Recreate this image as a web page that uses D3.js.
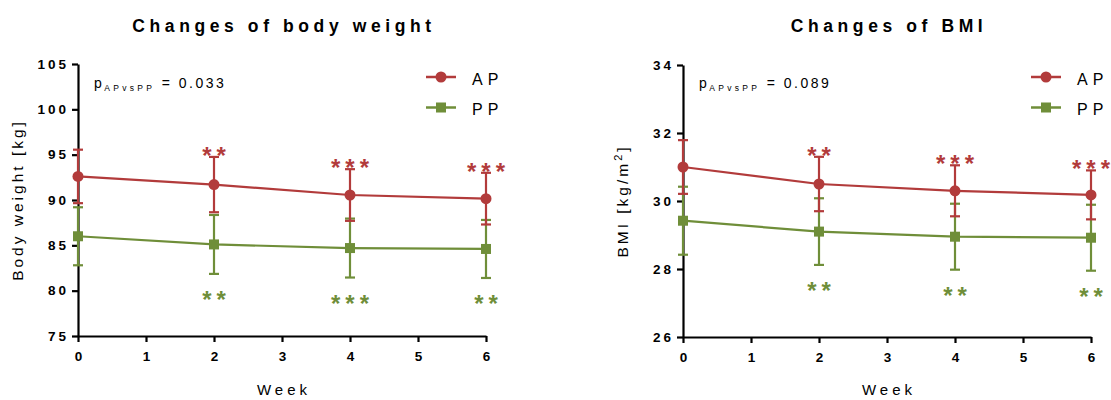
<!DOCTYPE html>
<html>
<head>
<meta charset="utf-8">
<script src="https://cdn.jsdelivr.net/npm/d3@7"></script>
<style>
  html, body { margin: 0; padding: 0; background: #fff; }
  svg { display: block; font-family: "Liberation Sans", Arial, Helvetica, sans-serif; }
</style>
</head>
<body>
<svg id="chart" width="1111" height="400"></svg>
<script>
// Study weeks at which measurements were taken
const weeks = [0, 2, 4, 6];
const weekTicks = [0, 1, 2, 3, 4, 5, 6];

// Body weight (kg): mean and SD per group
const weightAP = [92.6, 91.7, 90.55, 90.15];
const weightAPsd = [2.95, 3.05, 2.85, 2.85];
const weightPP = [86.0, 85.1, 84.7, 84.6];
const weightPPsd = [3.2, 3.25, 3.25, 3.2];
const weightTicks = [75, 80, 85, 90, 95, 100, 105];

// BMI (kg/m^2): mean and SD per group
const bmiAP = [31.0, 30.5, 30.3, 30.18];
const bmiAPsd = [0.79, 0.8, 0.75, 0.72];
const bmiPP = [29.42, 29.1, 28.95, 28.92];
const bmiPPsd = [1.0, 0.98, 0.97, 0.97];
const bmiTicks = [26, 28, 30, 32, 34];

// Significance marks versus baseline
const weightAPstars = ["", "**", "***", "***"];
const weightPPstars = ["", "**", "***", "**"];
const bmiAPstars = ["", "**", "***", "***"];
const bmiPPstars = ["", "**", "**", "**"];

const groups = ["AP", "PP"];
const colors = { AP: "#b23b3b", PP: "#6f8e39" };

const svg = d3.select("#chart");

function drawPanel(opt) {
  const g = svg.append("g");
  const x = d3.scaleLinear().domain([0, 6]).range([opt.left, opt.left + 408]);
  const y = d3.scaleLinear().domain(opt.domain).range([opt.bottom, opt.top]);

  // Title
  g.append("text")
    .attr("x", (x(0) + x(6)) / 2 + 2)
    .attr("y", 32)
    .attr("text-anchor", "middle")
    .style("font-size", "17.5px")
    .style("font-weight", "bold")
    .style("letter-spacing", "4.6px")
    .text(opt.title);

  // Axes
  const yAxis = d3.axisLeft(y).tickValues(opt.ticks).tickFormat(d3.format("d"))
    .tickSize(6).tickSizeOuter(0).tickPadding(5);
  const xAxis = d3.axisBottom(x).tickValues(weekTicks).tickFormat(d3.format("d"))
    .tickSize(6).tickSizeOuter(0).tickPadding(9);

  const ya = g.append("g").attr("transform", `translate(${x(0)},0)`).call(yAxis);
  const xa = g.append("g").attr("transform", `translate(0,${y(opt.domain[0])})`).call(xAxis);
  [ya, xa].forEach(a => {
    a.select(".domain").attr("stroke", "#000").attr("stroke-width", 2.2);
    a.selectAll(".tick line").attr("stroke", "#000").attr("stroke-width", 2.2);
    a.selectAll(".tick text")
      .attr("fill", "#000")
      .style("font-size", "13.5px")
      .style("font-weight", "bold")
      .style("letter-spacing", "3px")
      .style("font-family", "Liberation Sans, Arial, sans-serif");
  });
  ya.selectAll(".tick text").attr("dx", "2px");
  xa.selectAll(".tick text").attr("dx", "1.5px");

  // Axis titles
  g.append("text")
    .attr("x", (x(0) + x(6)) / 2 + 2)
    .attr("y", 395)
    .attr("text-anchor", "middle")
    .style("font-size", "15px")
    .style("letter-spacing", "4px")
    .text("Week");

  const yl = g.append("text")
    .attr("transform", `translate(${opt.ylabelX},${(opt.top + opt.bottom) / 2}) rotate(-90)`)
    .attr("text-anchor", "middle")
    .style("font-size", "15.5px")
    .style("letter-spacing", "3px");
  opt.ylabel(yl);

  // p value
  const pt = g.append("text")
    .attr("x", x(0) + 16)
    .attr("y", 88)
    .style("font-size", "14px")
    .style("letter-spacing", "2.5px");
  pt.append("tspan").text("p");
  pt.append("tspan").attr("dy", 3).style("font-size", "8.5px").style("letter-spacing", "3.3px").text("APvsPP");
  pt.append("tspan").attr("dy", -3).text(" = " + opt.p);

  // Series: PP first so AP sits on top
  const series = [
    { key: "PP", mean: opt.pp, sd: opt.ppsd, stars: opt.ppStars },
    { key: "AP", mean: opt.ap, sd: opt.apsd, stars: opt.apStars }
  ];
  const line = d3.line().x((d, i) => x(weeks[i])).y(d => y(d));

  series.forEach(s => {
    const c = colors[s.key];
    const sg = g.append("g");
    // error bars (mean ± SD)
    weeks.forEach((w, i) => {
      const hi = y(s.mean[i] + s.sd[i]), lo = y(s.mean[i] - s.sd[i]), cx = x(w);
      sg.append("line").attr("x1", cx).attr("x2", cx).attr("y1", hi).attr("y2", lo)
        .attr("stroke", c).attr("stroke-width", 2.2);
      [hi, lo].forEach(v => sg.append("line")
        .attr("x1", cx - 5).attr("x2", cx + 5).attr("y1", v).attr("y2", v)
        .attr("stroke", c).attr("stroke-width", 2.2));
    });
    sg.append("path").datum(s.mean).attr("d", line)
      .attr("fill", "none").attr("stroke", c).attr("stroke-width", 2.2);
    weeks.forEach((w, i) => {
      if (s.key === "AP") {
        sg.append("circle").attr("cx", x(w)).attr("cy", y(s.mean[i])).attr("r", 5.5).attr("fill", c);
      } else {
        sg.append("rect").attr("x", x(w) - 5).attr("y", y(s.mean[i]) - 5)
          .attr("width", 10).attr("height", 10).attr("fill", c);
      }
      if (s.stars[i]) {
        const yy = s.key === "AP" ? y(s.mean[i] + s.sd[i]) + 7 : y(s.mean[i] - s.sd[i]) + 34;
        sg.append("text").attr("x", x(w) + 2.5).attr("y", yy)
          .attr("text-anchor", "middle")
          .attr("fill", c)
          .style("font-size", "24px")
          .style("font-weight", "bold")
          .style("letter-spacing", "5px")
          .text(s.stars[i]);
      }
    });
  });

  // Legend
  groups.forEach((k, i) => {
    const lx = x(0) + 363, ly = 77 + i * 30.5, c = colors[k];
    g.append("line").attr("x1", lx - 15).attr("x2", lx + 15).attr("y1", ly).attr("y2", ly)
      .attr("stroke", c).attr("stroke-width", 2.5);
    if (k === "AP") g.append("circle").attr("cx", lx).attr("cy", ly).attr("r", 5.5).attr("fill", c);
    else g.append("rect").attr("x", lx - 5).attr("y", ly - 5).attr("width", 10).attr("height", 10).attr("fill", c);
    g.append("text").attr("x", lx + 31).attr("y", ly + 7.5)
      .style("font-size", "16px").style("letter-spacing", "5px").text(k);
  });
}

drawPanel({
  title: "Changes of body weight",
  left: 78, top: 64, bottom: 336,
  domain: [75, 105], ticks: weightTicks,
  ap: weightAP, apsd: weightAPsd, pp: weightPP, ppsd: weightPPsd,
  apStars: weightAPstars, ppStars: weightPPstars,
  p: "0.033",
  ylabelX: 23,
  ylabel: t => t.text("Body weight [kg]")
});

drawPanel({
  title: "Changes of BMI",
  left: 683, top: 65, bottom: 337,
  domain: [26, 34], ticks: bmiTicks,
  ap: bmiAP, apsd: bmiAPsd, pp: bmiPP, ppsd: bmiPPsd,
  apStars: bmiAPstars, ppStars: bmiPPstars,
  p: "0.089",
  ylabelX: 628,
  ylabel: t => {
    t.append("tspan").text("BMI [kg/m");
    t.append("tspan").attr("dy", -6).style("font-size", "11px").text("2");
    t.append("tspan").attr("dy", 6).text("]");
  }
});
</script>
</body>
</html>
